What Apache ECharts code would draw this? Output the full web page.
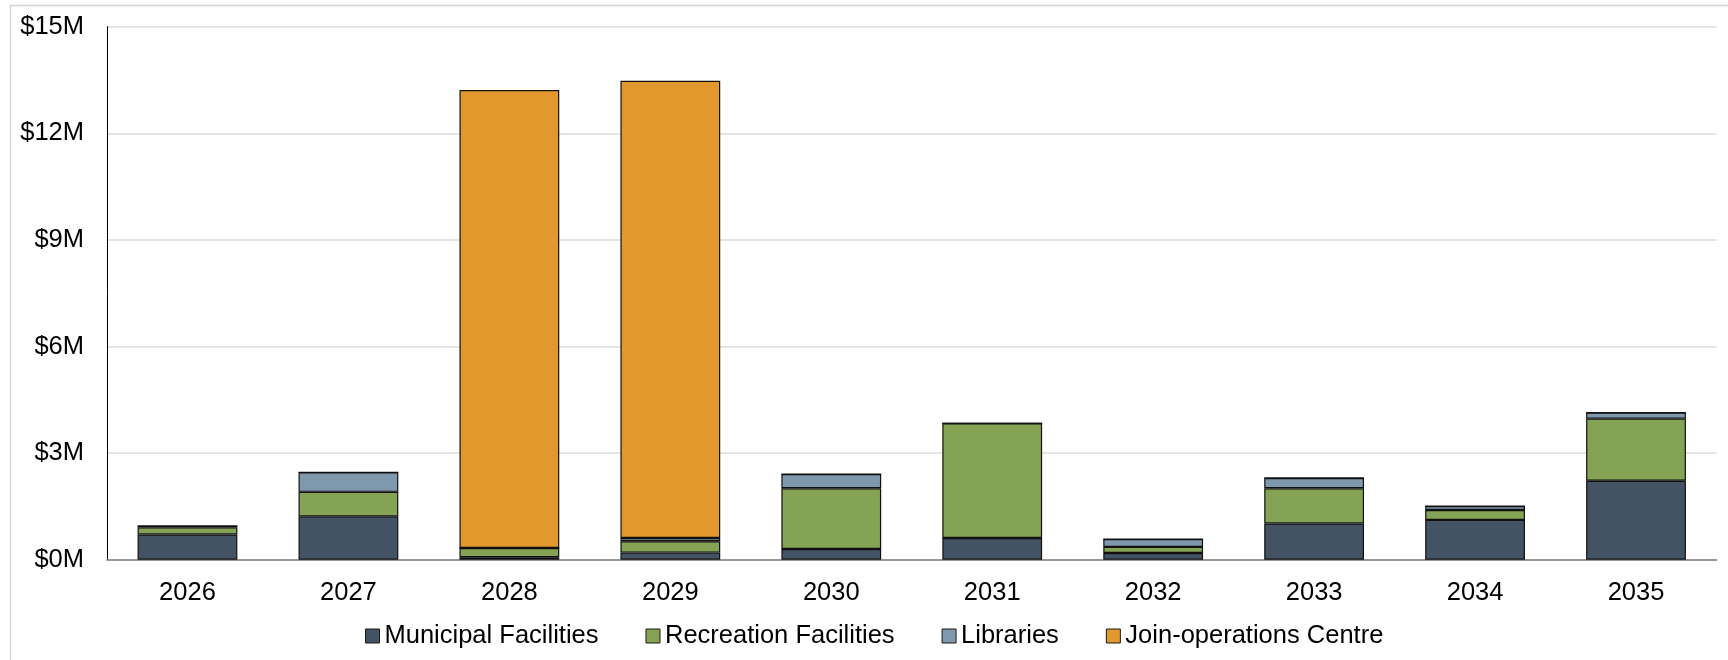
<!DOCTYPE html>
<html>
<head>
<meta charset="utf-8">
<script src="https://cdn.jsdelivr.net/npm/echarts@6/dist/echarts.min.js"></script>
<style>
html,body{margin:0;padding:0;background:#fff;}
#chart{width:1728px;height:660px;}
</style>
</head>
<body>
<div id="chart"></div>
<script>
// Values in $ millions
const years = ['2026','2027','2028','2029','2030','2031','2032','2033','2034','2035'];
const municipal  = [0.71, 1.22, 0.07, 0.20, 0.30, 0.61, 0.19, 1.02, 1.12, 2.22];
const recreation = [0.20, 0.69, 0.26, 0.32, 1.71, 3.23, 0.17, 0.99, 0.28, 1.75];
const libraries  = [0.04, 0.55, 0.00, 0.09, 0.40, 0.00, 0.22, 0.29, 0.11, 0.17];
const joinOps    = [0,    0,    12.89, 12.87, 0,  0,    0,    0,    0,    0];
const seriesNames = ['Municipal Facilities','Recreation Facilities','Libraries','Join-operations Centre'];
const yTicks = [0, 3, 6, 9, 12, 15];

const colors = ['#435364', '#84A354', '#7E98AD', '#E3982E'];
const font = 'Liberation Sans, Arial, sans-serif';
const fs = 25.5;

const chart = echarts.init(document.getElementById('chart'), null, {renderer:'canvas'});
const dataSets = [municipal, recreation, libraries, joinOps];

chart.setOption({
  animation: false,
  backgroundColor: '#fff',
  color: colors,
  graphic: [{
    type: 'rect', silent: true, z: -10,
    shape: {x: 10.5, y: 5.5, width: 1800, height: 800},
    style: {fill: 'none', stroke: '#d4d4d4', lineWidth: 1.3}
  }],
  grid: {left: 107, right: 11.5, top: 26.7, bottom: 100.3, containLabel: false},
  legend: {
    data: seriesNames,
    left: 360, top: 618,
    itemWidth: 14, itemHeight: 14, itemGap: 47,
    icon: 'rect',
    textStyle: {fontFamily: font, fontSize: fs, color: '#000'},
    itemStyle: {borderColor: '#1a1a1a', borderWidth: 1}
  },
  xAxis: {
    type: 'category',
    data: years,
    axisLine: {lineStyle: {color: '#7f7f7f', width: 1.5}},
    axisTick: {show: false},
    axisLabel: {fontFamily: font, fontSize: fs, color: '#000', margin: 20}
  },
  yAxis: {
    type: 'value',
    min: yTicks[0], max: yTicks[yTicks.length-1], interval: 3,
    axisLine: {show: true, lineStyle: {color: '#000', width: 1}},
    axisTick: {show: false},
    splitLine: {lineStyle: {color: '#dcdcdc', width: 1.5}},
    axisLabel: {fontFamily: font, fontSize: fs, color: '#000', margin: 23,
      formatter: v => '$' + v + 'M'}
  },
  series: seriesNames.map((name, i) => ({
    name: name,
    type: 'bar',
    stack: 'total',
    barWidth: '62%',
    data: dataSets[i],
    itemStyle: {color: colors[i], borderColor: '#111', borderWidth: 1.2}
  }))
});
</script>
</body>
</html>
